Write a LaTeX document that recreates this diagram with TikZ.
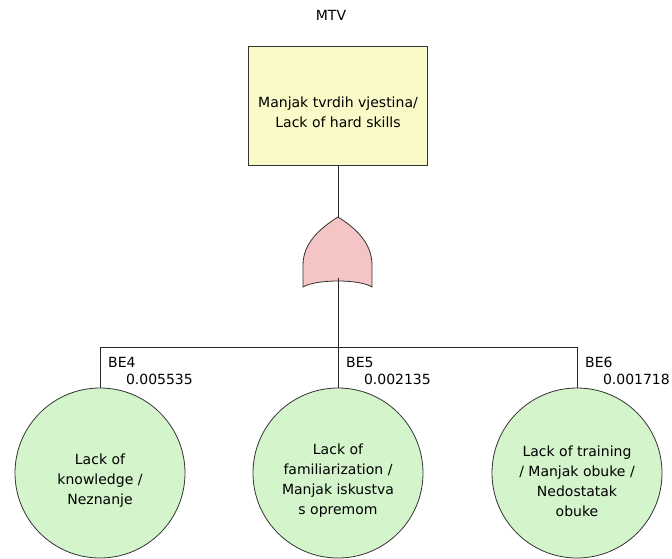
\documentclass[tikz,border=0pt]{standalone}
\usepackage{fontspec}
\setmainfont{DejaVu Sans}
\usepackage{tikz}
\usetikzlibrary{calc}
\definecolor{topfill}{RGB}{250,249,200}
\definecolor{gatefill}{RGB}{245,196,196}
\definecolor{eventfill}{RGB}{212,244,204}
\newcommand{\ftsize}{\fontsize{14}{20}\selectfont}
\tikzset{topevent/.style={draw=#1,fill=topfill,line width=1pt,minimum width=179pt,minimum height=119pt},topevent/.default=black!80}
\tikzset{basicevent/.style={circle,draw=#1,fill=eventfill,line width=0.8pt,minimum size=170pt,inner sep=0pt},basicevent/.default=black!80}
\tikzset{evtext/.style={inner sep=0pt,align=center,font=\ftsize,yshift=-#1},evtext/.default=8pt}
\tikzset{tag/.style={inner sep=0pt,font=\ftsize}}
\tikzset{wire/.style={color=#1,line width=1pt},wire/.default=black!85}

\begin{document}
\begin{tikzpicture}[x=1pt,y=-1pt]

	\useasboundingbox (0,0) rectangle (672,558);

	% Evento de topo
	\node [tag] (mtv) at (331,15) {MTV};
	\node [topevent, label={[evtext=6pt]center:Manjak tvrdih vjestina/\\Lack of hard skills}] (top) at (338,106) {};

	% A porta OR
	\coordinate (gate top) at (338,217);
	\coordinate (gate out) at (338,278);
	\filldraw [fill=gatefill,draw=black!80,line width=0.8pt]
		(303,287) -- (303,265) .. controls (303,242) and (322,227) .. (gate top)
		.. controls (354,227) and (372,242) .. (372,265) -- (372,287)
		.. controls (360,279) and (316,279) .. (303,287) -- cycle;

	% Eventos basicos
	\node [basicevent, label={[evtext]center:Lack of\\knowledge /\\Neznanje}] (be4) at (100,473) {};
	\node [basicevent, label={[evtext]center:Lack of\\familiarization /\\Manjak iskustva\\s opremom}] (be5) at (338,473) {};
	\node [basicevent, label={[evtext]center:Lack of training\\/ Manjak obuke /\\Nedostatak\\obuke}] (be6) at (577,473) {};

	% Ligacoes
	\coordinate (bar) at (338,347);
	\draw [wire] (top.south) -- (gate top);
	\draw [wire] (gate out) -- (bar);
	\draw [wire] (bar) -| (be4.north);
	\draw [wire] (bar) -- (be5.north);
	\draw [wire] (bar) -| (be6.north);

	% Rotulos e probabilidades
	\foreach \ev/\name/\prob in {be4/BE4/0.005535, be5/BE5/0.002135, be6/BE6/0.001718} {
		\node [tag,anchor=base west] (\ev name) at ($(\ev.north) + (8,-20)$) {\name};
		\node [tag,anchor=base east] (\ev prob) at ($(\ev.north) + (93,-3)$) {\prob};
	}

\end{tikzpicture}
\end{document}
